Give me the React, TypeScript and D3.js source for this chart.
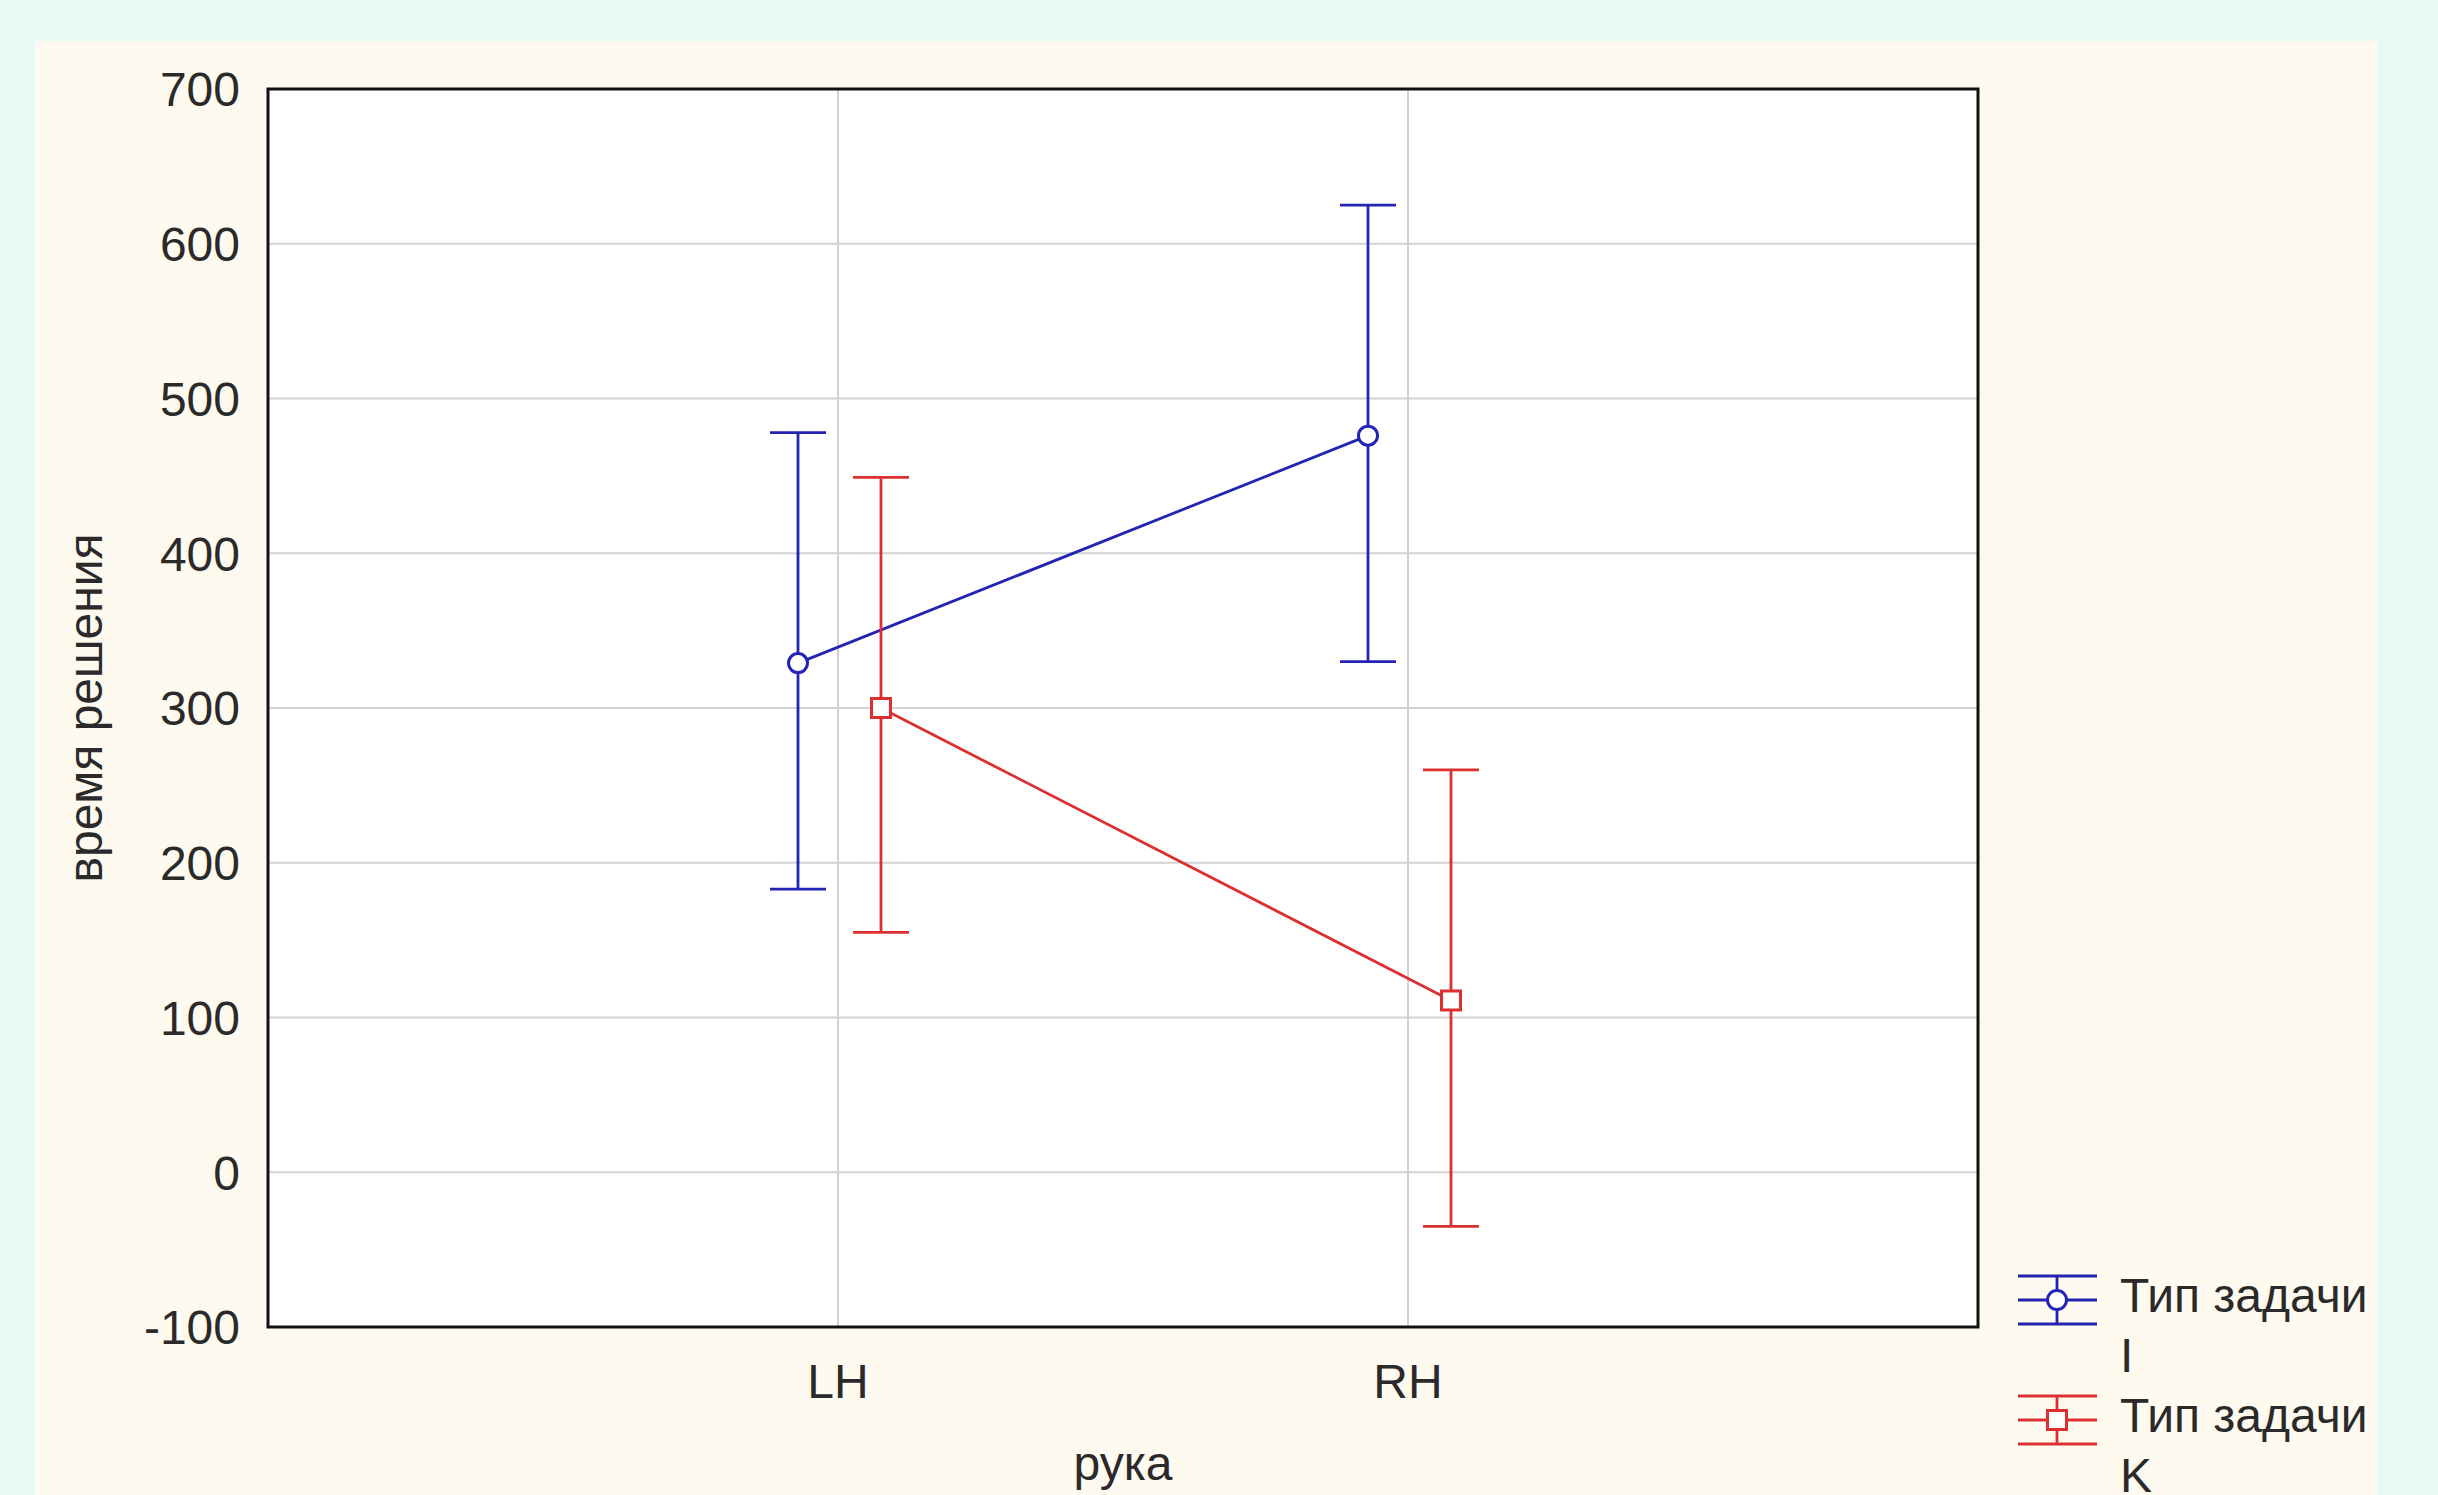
import React from "react";
import * as d3 from "d3";

const categories = ["LH", "RH"];
const seriesNames = ["Тип задачи I", "Тип задачи K"];
const legendLines = [["Тип задачи", "I"], ["Тип задачи", "K"]];
const meanI = [329, 476];
const lowI = [183, 330];
const highI = [478, 625];
const meanK = [300, 111];
const lowK = [155, -35];
const highK = [449, 260];
const yTicks = [-100, 0, 100, 200, 300, 400, 500, 600, 700];
const xTitle = "рука";
const yTitle = "время решения";

const W = 2438, H = 1495;
const plot = { l: 268, r: 1978, t: 89, b: 1327 };
const FONT = "'Liberation Sans', Arial, sans-serif";
const TEXT = "#2a2a2a";
const COLORS = ["#2424B4", "#DC3030"];
const OFFSETS = [-40, 43];

export default function App() {
  const x = d3.scalePoint<string>().domain(categories).range([plot.l, plot.r]).padding(1);
  const y = d3.scaleLinear().domain([-100, 700]).range([plot.b, plot.t]);
  const series = [
    { name: seriesNames[0], mean: meanI, low: lowI, high: highI, marker: "circle" },
    { name: seriesNames[1], mean: meanK, low: lowK, high: highK, marker: "square" },
  ];
  const line = d3.line<[number, number]>().x((d) => d[0]).y((d) => d[1]);
  const capW = 28;
  const SW = 2.8;

  const marker = (kind: string, cx: number, cy: number, color: string, key?: string) =>
    kind === "circle" ? (
      <circle key={key} cx={cx} cy={cy} r={9.5} fill="#fff" stroke={color} strokeWidth={3} />
    ) : (
      <rect key={key} x={cx - 9.5} y={cy - 9.5} width={19} height={19} fill="#fff" stroke={color} strokeWidth={3} />
    );

  return (
    <div style={{ position: "absolute", left: 0, top: 0 }}>
      <svg width={W} height={H} style={{ display: "block" }}>
        <rect x={0} y={0} width={W} height={H} fill="#E8FAF6" />
        <rect x={35} y={41} width={2342} height={H - 41} fill="#FEFAF0" />
        <rect x={plot.l} y={plot.t} width={plot.r - plot.l} height={plot.b - plot.t} fill="#fff" />
        {yTicks.map((t) => (
          <line key={"gy" + t} x1={plot.l} x2={plot.r} y1={y(t)} y2={y(t)} stroke="#d2d2d2" strokeWidth={2} />
        ))}
        {categories.map((c) => (
          <line key={"gx" + c} x1={x(c)} x2={x(c)} y1={plot.t} y2={plot.b} stroke="#d2d2d2" strokeWidth={2} />
        ))}
        {series.map((s, si) => {
          const pts: [number, number][] = categories.map((c, i) => [(x(c) as number) + OFFSETS[si], y(s.mean[i])]);
          return (
            <g key={s.name}>
              <path d={line(pts) || ""} fill="none" stroke={COLORS[si]} strokeWidth={SW} />
              {categories.map((c, i) => {
                const cx = (x(c) as number) + OFFSETS[si];
                return (
                  <g key={c} stroke={COLORS[si]} strokeWidth={SW}>
                    <line x1={cx} x2={cx} y1={y(s.low[i])} y2={y(s.high[i])} />
                    <line x1={cx - capW} x2={cx + capW} y1={y(s.low[i])} y2={y(s.low[i])} />
                    <line x1={cx - capW} x2={cx + capW} y1={y(s.high[i])} y2={y(s.high[i])} />
                  </g>
                );
              })}
              {pts.map((p, i) => marker(s.marker, p[0], p[1], COLORS[si], "m" + i))}
            </g>
          );
        })}
        <rect x={plot.l} y={plot.t} width={plot.r - plot.l} height={plot.b - plot.t} fill="none" stroke="#111" strokeWidth={3} />
        {yTicks.map((t) => (
          <text key={"ty" + t} x={240} y={y(t)} dy="0.36em" textAnchor="end" fontFamily={FONT} fontSize={48} fill={TEXT}>
            {t}
          </text>
        ))}
        {categories.map((c) => (
          <text key={"tx" + c} x={x(c)} y={1398} textAnchor="middle" fontFamily={FONT} fontSize={48} fill={TEXT}>
            {c}
          </text>
        ))}
        <text x={(plot.l + plot.r) / 2} y={1480} textAnchor="middle" fontFamily={FONT} fontSize={48} fill={TEXT}>
          {xTitle}
        </text>
        <text
          transform={`translate(85,${(plot.t + plot.b) / 2}) rotate(-90)`}
          dy="0.36em"
          textAnchor="middle"
          fontFamily={FONT}
          fontSize={48}
          fill={TEXT}
        >
          {yTitle}
        </text>
        {series.map((s, si) => {
          const cy = 1300 + si * 120;
          const cx = 2057;
          return (
            <g key={"lg" + si}>
              <g stroke={COLORS[si]} strokeWidth={SW}>
                <line x1={2018} x2={2097} y1={cy} y2={cy} />
                <line x1={2018} x2={2097} y1={cy - 24} y2={cy - 24} />
                <line x1={2018} x2={2097} y1={cy + 24} y2={cy + 24} />
                <line x1={cx} x2={cx} y1={cy - 24} y2={cy + 24} />
              </g>
              {marker(s.marker, cx, cy, COLORS[si])}
              {legendLines[si].map((ln, li) => (
                <text key={li} x={2120} y={cy + 12 + li * 60} fontFamily={FONT} fontSize={48} fill={TEXT}>
                  {ln}
                </text>
              ))}
            </g>
          );
        })}
      </svg>
    </div>
  );
}
